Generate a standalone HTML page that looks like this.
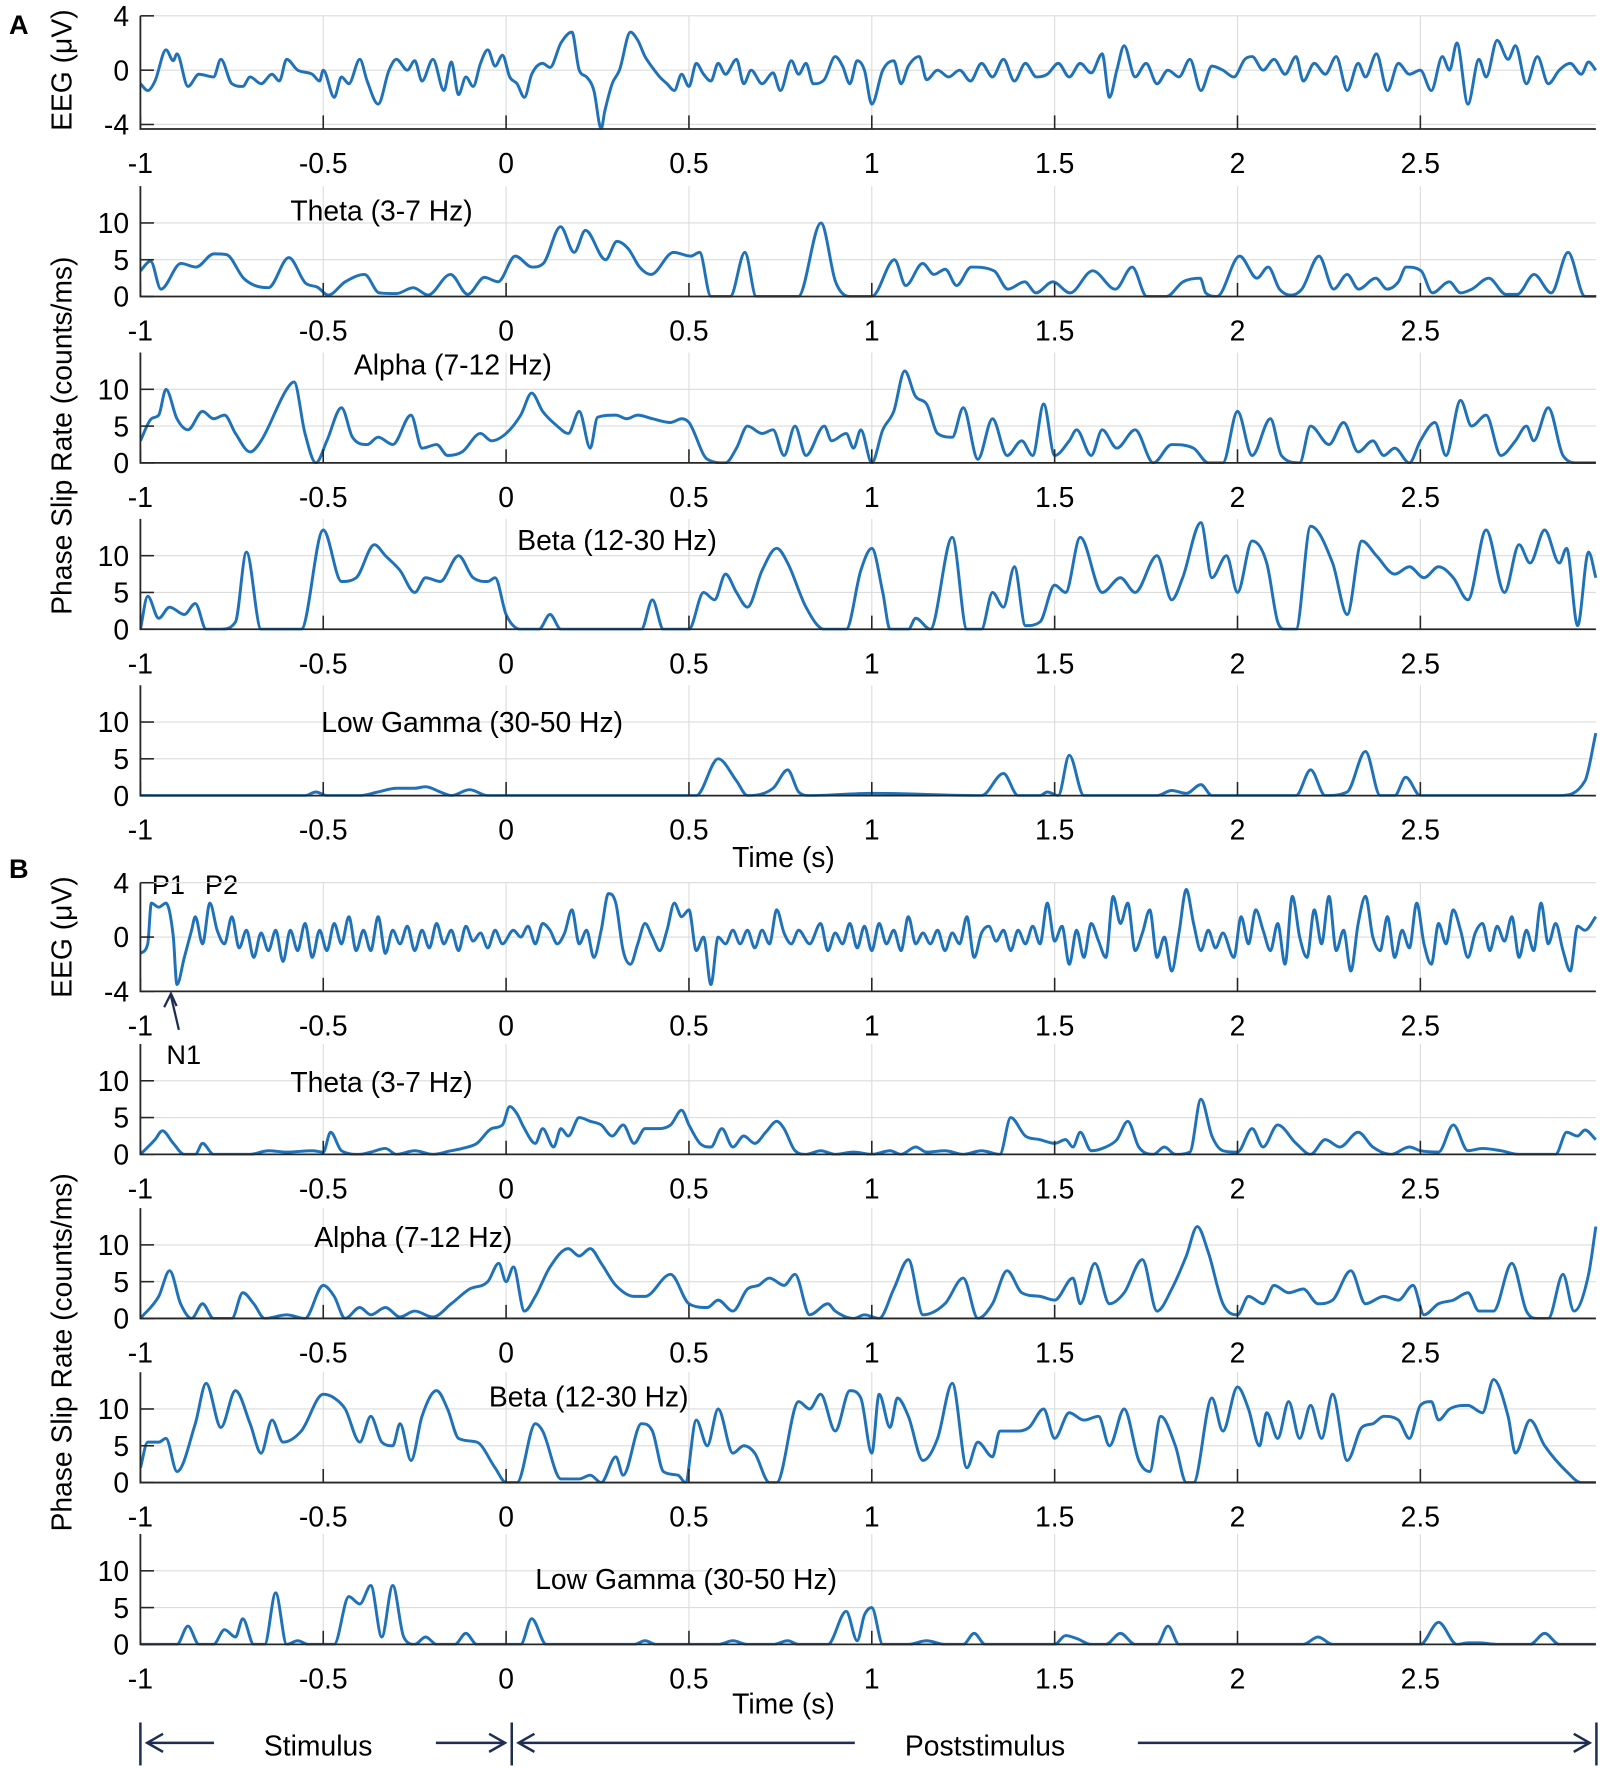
<!DOCTYPE html>
<html><head><meta charset="utf-8"><style>
html,body{margin:0;padding:0;background:#fff;}
svg{display:block;font-family:"Liberation Sans",sans-serif;}
</style></head><body>
<svg id="chart" width="1610" height="1770" viewBox="0 0 1422 1564" preserveAspectRatio="none" xmlns="http://www.w3.org/2000/svg">
<g id="static">
<text x="8" y="30" font-size="24" font-weight="bold">A</text>
<text x="8" y="776" font-size="24" font-weight="bold">B</text>
<text transform="translate(63,62) rotate(-90)" text-anchor="middle" font-size="25">EEG (μV)</text>
<text transform="translate(63,385) rotate(-90)" text-anchor="middle" font-size="25">Phase Slip Rate (counts/ms)</text>
<text transform="translate(63,828) rotate(-90)" text-anchor="middle" font-size="25">EEG (μV)</text>
<text transform="translate(63,1195) rotate(-90)" text-anchor="middle" font-size="25">Phase Slip Rate (counts/ms)</text>
<text x="692" y="766" text-anchor="middle" font-size="25">Time (s)</text>
<text x="692" y="1514" text-anchor="middle" font-size="25">Time (s)</text>
<text x="134" y="790" font-size="24">P1</text>
<text x="181" y="790" font-size="24">P2</text>
<text x="147" y="940" font-size="24">N1</text>
<g stroke="#1f2d52" stroke-width="2" fill="none">
<line x1="158" y1="910" x2="151" y2="880"/><polyline points="145,890 151,878 156,889"/></g>
<g stroke="#1f2d52" stroke-width="2.2" fill="none">
<line x1="124" y1="1522" x2="124" y2="1560"/><line x1="452" y1="1522" x2="452" y2="1560"/><line x1="1410" y1="1522" x2="1410" y2="1560"/>
<line x1="130" y1="1540" x2="189" y2="1540"/><polyline points="144,1532 130,1540 144,1548"/>
<line x1="385" y1="1540" x2="446" y2="1540"/><polyline points="432,1532 446,1540 432,1548"/>
<line x1="458" y1="1540" x2="755" y2="1540"/><polyline points="472,1532 458,1540 472,1548"/>
<line x1="1005" y1="1540" x2="1404" y2="1540"/><polyline points="1390,1532 1404,1540 1390,1548"/></g>
<text x="281" y="1551" text-anchor="middle" font-size="25">Stimulus</text>
<text x="870" y="1551" text-anchor="middle" font-size="25">Poststimulus</text>
</g>
<g id="plots"></g>
</svg>
<script>
// ---- data (times in s, values) ----
const eegA_t=[-1,-0.98,-0.96,-0.93,-0.91,-0.9,-0.87,-0.84,-0.8,-0.78,-0.75,-0.72,-0.7,-0.67,-0.64,-0.62,-0.6,-0.57,-0.53,-0.51,-0.5,-0.47,-0.45,-0.43,-0.4,-0.38,-0.35,-0.32,-0.3,-0.27,-0.25,-0.23,-0.2,-0.17,-0.15,-0.13,-0.11,-0.09,-0.07,-0.05,-0.03,-0.01,0.01,0.03,0.05,0.07,0.1,0.12,0.15,0.18,0.2,0.22,0.24,0.26,0.27,0.29,0.31,0.34,0.36,0.38,0.4,0.42,0.44,0.46,0.48,0.5,0.52,0.54,0.56,0.58,0.6,0.63,0.65,0.67,0.7,0.73,0.75,0.78,0.8,0.82,0.84,0.87,0.9,0.92,0.94,0.96,0.98,1.0,1.03,1.06,1.08,1.1,1.13,1.15,1.18,1.21,1.24,1.27,1.3,1.33,1.36,1.39,1.42,1.45,1.48,1.51,1.54,1.57,1.6,1.63,1.65,1.67,1.69,1.72,1.75,1.78,1.81,1.84,1.87,1.9,1.93,1.96,1.99,2.02,2.04,2.07,2.1,2.13,2.16,2.18,2.21,2.24,2.27,2.3,2.33,2.35,2.38,2.41,2.44,2.47,2.5,2.53,2.56,2.58,2.6,2.63,2.66,2.68,2.71,2.74,2.76,2.79,2.82,2.85,2.88,2.91,2.94,2.96,2.98];
const eegA_v=[-1,-1.5,-0.8,1.5,0.7,1.2,-1.2,-0.3,-0.5,0.8,-1,-1.2,-0.5,-1,-0.3,-0.8,0.8,0,-0.3,-0.8,0,-2,-0.5,-1,0.8,-0.8,-2.5,0,0.8,0,0.7,-0.8,0.8,-1.5,0.6,-1.8,-0.5,-1.2,0.5,1.5,0.3,1.1,-0.5,-1,-2,-0.3,0.5,0.2,2,2.8,0,-0.5,-1.5,-4.3,-3,-1,0,2.8,2.2,1,0.2,-0.5,-1,-1.5,-0.3,-1.2,0.5,-0.3,-0.8,0.5,-0.3,0.8,-1,0,-1,-0.2,-1.5,0.7,-0.3,0.5,-1,-0.7,1,0.3,-1,0.7,0,-2.5,0,0.7,-1,0.3,1,-0.7,0,-0.5,0,-0.8,0.5,-0.5,0.8,-0.8,0.5,-0.5,-0.3,0.5,-0.5,0.5,-0.2,1.2,-2,0,1.8,-0.5,0.5,-1,0,-0.5,0.8,-1.5,0.3,0,-0.5,0.8,1,0,0.8,-0.3,1,-0.8,0.5,-0.3,1,-1.5,0.5,-0.5,1.2,-1.5,0.5,-0.3,0,-1.5,1,0,2,-2.5,0.8,-0.5,2.2,0.8,1.8,-1,1,-1,0,0.5,-0.3,0.6,0];
const thetaA_t=[-1,-0.972,-0.944,-0.889,-0.848,-0.799,-0.765,-0.718,-0.687,-0.65,-0.594,-0.548,-0.517,-0.486,-0.44,-0.387,-0.347,-0.3,-0.254,-0.214,-0.152,-0.105,-0.059,-0.022,0.025,0.071,0.102,0.149,0.186,0.217,0.272,0.303,0.334,0.365,0.396,0.458,0.505,0.529,0.56,0.613,0.653,0.684,0.799,0.861,0.901,0.938,1.0,1.062,1.093,1.139,1.17,1.201,1.232,1.272,1.334,1.372,1.418,1.449,1.495,1.542,1.604,1.666,1.712,1.752,1.805,1.851,1.898,1.913,1.944,2.006,2.053,2.084,2.115,2.146,2.176,2.223,2.263,2.3,2.331,2.378,2.409,2.44,2.461,2.502,2.533,2.579,2.61,2.641,2.687,2.734,2.765,2.811,2.858,2.904,2.95,2.981];
const thetaA_v=[3.5,4.8,1,4.5,4,5.8,5.7,2.5,1.5,1.2,5.3,1.8,1.3,0.2,2,3,0.5,0.4,1.2,0.2,3,0.3,2.6,2,5.5,4,4.5,9.5,6,9,5,7.5,6.5,4,3,6,5.5,6,0,0,6,0,0,10,2,0,0,5,1.5,4.5,3,3.7,1.5,4,3.5,1,2,0.5,2,0.5,3.5,1,4,0,0,2,2.5,0.5,0,5.5,2.5,4,1,0.2,1,5.5,1,3,1,2.5,1,2,4,3.5,0.5,2,0.5,1,2.5,0.3,0.3,3,0.5,6,0,0];
const alphaA_t=[-1,-0.97,-0.95,-0.93,-0.9,-0.87,-0.83,-0.8,-0.77,-0.74,-0.7,-0.67,-0.6,-0.58,-0.55,-0.52,-0.49,-0.45,-0.42,-0.38,-0.35,-0.31,-0.26,-0.23,-0.19,-0.16,-0.12,-0.07,-0.04,0,0.04,0.07,0.1,0.14,0.17,0.2,0.23,0.25,0.3,0.33,0.36,0.4,0.45,0.48,0.5,0.55,0.6,0.63,0.66,0.7,0.73,0.76,0.79,0.82,0.87,0.89,0.93,0.95,0.97,1.0,1.03,1.06,1.09,1.12,1.15,1.18,1.22,1.25,1.29,1.33,1.37,1.41,1.44,1.47,1.5,1.54,1.56,1.6,1.63,1.67,1.72,1.77,1.82,1.88,1.92,1.96,2.0,2.04,2.09,2.12,2.17,2.2,2.25,2.29,2.33,2.37,2.4,2.43,2.47,2.5,2.54,2.57,2.61,2.64,2.68,2.72,2.76,2.79,2.81,2.85,2.89,2.93,2.98];
const alphaA_v=[3,6,6.5,10,6,4.5,7,6,6.5,4,1.5,3,10,11,4,0,3,7.5,3.5,2.5,3.5,2.5,6.5,2,2.5,1,1.5,4,3,4,6.5,9.5,7,5,4,7,2,6.2,6.5,6,6.5,6,5.5,6,5.5,0.5,0,2,5,4,4.5,1,5,1,5,3,4,2,4.5,0,4.5,7,12.5,9,8,4,3.5,7.5,0.5,6,1,3,1,8,1,3,4.5,1,4.5,2,4.5,0,2.5,2,0,0,7,1,6,1,0,5,2.5,5.5,1.5,3,1,2,0,3,5.5,1,8.5,5,6.5,1,3,5,3,7.5,1,0,0];
const betaA_t=[-1,-0.98,-0.95,-0.92,-0.88,-0.85,-0.82,-0.78,-0.74,-0.71,-0.67,-0.6,-0.56,-0.5,-0.45,-0.41,-0.36,-0.33,-0.29,-0.25,-0.22,-0.18,-0.13,-0.09,-0.05,-0.03,0,0.04,0.09,0.12,0.15,0.37,0.4,0.43,0.5,0.54,0.57,0.6,0.63,0.66,0.7,0.74,0.77,0.82,0.87,0.93,0.97,1.0,1.03,1.05,1.1,1.12,1.16,1.22,1.26,1.3,1.33,1.36,1.39,1.42,1.46,1.5,1.53,1.57,1.63,1.68,1.72,1.78,1.82,1.85,1.9,1.93,1.97,2.0,2.04,2.08,2.11,2.13,2.16,2.2,2.26,2.3,2.34,2.38,2.43,2.47,2.51,2.55,2.59,2.63,2.68,2.73,2.77,2.8,2.84,2.88,2.9,2.93,2.96,2.98];
const betaA_v=[0,4.5,1.5,3,2,3.5,0,0,1,10.5,0,0,0,13.5,6.5,7,11.5,10,8,5,7,6.5,10,7,6.5,7,2,0,0,2,0,0,4,0,0,5,4,7.5,5,3,8,11,9,3,0,0,8,11,5,0,0,1.5,0,12.5,0,0,5,3,8.5,0.5,1,6,5,12.5,5,7,5,10,4,7,14.5,7,10,5,12,9,1,0,0,14,9,2,12,10,7.5,8.5,7,8.5,7,4,13.5,5,11.5,9,13.5,9,11,0.5,10.5,7];
const gammaA_t=[-1,-0.55,-0.52,-0.49,-0.4,-0.35,-0.3,-0.25,-0.22,-0.18,-0.15,-0.1,-0.05,0.52,0.58,0.63,0.66,0.73,0.77,0.8,0.83,1.0,1.3,1.36,1.4,1.46,1.48,1.51,1.54,1.58,1.78,1.82,1.86,1.9,1.93,2.16,2.2,2.24,2.3,2.35,2.39,2.43,2.46,2.5,2.88,2.95,2.98];
const gammaA_v=[0,0,0.5,0,0,0.5,1,1,1.2,0.5,0,0.8,0,0,5,2,0,1,3.5,0.5,0,0.3,0,3,0,0,0.5,0,5.5,0,0,0.7,0.3,1.5,0,0,3.5,0,0.5,6,0,0,2.5,0,0,2,8.5];
const eegB_t=[-1,-0.98,-0.97,-0.95,-0.93,-0.91,-0.9,-0.88,-0.86,-0.85,-0.83,-0.81,-0.79,-0.77,-0.75,-0.73,-0.71,-0.69,-0.67,-0.65,-0.63,-0.61,-0.59,-0.57,-0.55,-0.53,-0.51,-0.49,-0.47,-0.45,-0.43,-0.41,-0.39,-0.37,-0.35,-0.33,-0.31,-0.29,-0.27,-0.25,-0.23,-0.21,-0.19,-0.17,-0.15,-0.13,-0.11,-0.09,-0.07,-0.05,-0.03,-0.01,0.02,0.04,0.06,0.08,0.1,0.12,0.14,0.16,0.18,0.2,0.22,0.24,0.26,0.28,0.3,0.32,0.34,0.36,0.38,0.4,0.42,0.44,0.46,0.48,0.5,0.52,0.54,0.56,0.58,0.6,0.62,0.64,0.66,0.68,0.7,0.72,0.74,0.76,0.78,0.8,0.83,0.86,0.88,0.9,0.92,0.94,0.96,0.98,1.0,1.02,1.04,1.06,1.08,1.1,1.12,1.14,1.16,1.18,1.2,1.22,1.24,1.26,1.28,1.3,1.32,1.34,1.36,1.38,1.4,1.42,1.44,1.46,1.48,1.5,1.52,1.54,1.56,1.58,1.6,1.62,1.64,1.66,1.68,1.7,1.72,1.74,1.76,1.78,1.8,1.82,1.84,1.86,1.88,1.9,1.92,1.94,1.96,1.99,2.01,2.03,2.05,2.07,2.09,2.11,2.13,2.15,2.17,2.19,2.21,2.23,2.25,2.27,2.29,2.31,2.33,2.35,2.37,2.39,2.41,2.43,2.45,2.47,2.49,2.51,2.53,2.55,2.57,2.59,2.61,2.63,2.65,2.67,2.69,2.71,2.73,2.75,2.77,2.79,2.81,2.83,2.85,2.87,2.89,2.91,2.93,2.95,2.98];
const eegB_v=[-1.2,-0.5,2.5,2.2,2.5,0,-3.5,-1.5,0.5,1.5,-0.5,2.5,0.5,-0.5,1.5,-0.8,0.5,-1.5,0.3,-1,0.5,-1.8,0.5,-1,1,-1.5,0.5,-1,1,-0.5,1.5,-1,0.5,-1,1.5,-1.2,0.5,-0.5,0.8,-1,0.5,-0.8,1,-0.5,0.5,-1,0.8,-0.3,0.3,-0.8,0.5,-0.5,0.5,0,0.8,-0.5,1,0.5,-0.5,0.3,2,-0.5,0.5,-1.5,0.5,3.2,2.5,-1,-2,-0.5,1,0,-1,0.5,2.5,1.5,2,-1,0,-3.5,0,-0.5,0.5,-0.5,0.5,-0.8,0.5,-0.5,2,0.3,-0.5,0.5,-0.5,1,-1,0.3,-0.5,1,-0.8,0.8,-1,1,-0.5,0.5,-1,1.5,-0.5,0.3,-0.5,0.5,-1,0.3,-0.5,1.5,-1.5,0.3,0.8,-0.3,0.5,-1,0.5,-0.5,0.8,-0.5,2.5,-0.3,0.8,-2,0.5,-1.5,1,-0.3,-1.5,3,1,2.5,-1,0.3,2,-1.5,0,-2.5,0.3,3.5,1,-1,0.5,-0.8,0.3,-1.5,1.5,-0.5,2,0.5,-1,1,-2,3,0,-1.5,2,-0.5,3,-1,0.5,-2.5,1,3,0,-1,1.5,-1.5,0.5,-0.8,2.5,-0.5,-2,1,-0.5,2,0.5,-1.5,0.3,1,-1,0.8,-0.3,1.5,-1.5,0.5,-1,2.5,-0.5,1,-1,-2.5,0.8,0.5,1.5];
const thetaB_t=[-1,-0.96,-0.94,-0.91,-0.88,-0.85,-0.83,-0.8,-0.7,-0.65,-0.6,-0.53,-0.5,-0.48,-0.45,-0.4,-0.37,-0.33,-0.3,-0.25,-0.2,-0.15,-0.12,-0.08,-0.04,-0.01,0.01,0.03,0.05,0.08,0.1,0.13,0.15,0.17,0.2,0.23,0.26,0.29,0.32,0.35,0.38,0.41,0.45,0.48,0.5,0.53,0.56,0.59,0.62,0.65,0.68,0.71,0.74,0.76,0.79,0.82,0.86,0.9,0.95,1.0,1.05,1.08,1.12,1.15,1.2,1.25,1.3,1.35,1.38,1.42,1.46,1.5,1.53,1.55,1.57,1.6,1.64,1.67,1.7,1.73,1.77,1.8,1.83,1.87,1.9,1.93,1.96,2.0,2.04,2.07,2.11,2.16,2.2,2.24,2.28,2.33,2.37,2.42,2.47,2.5,2.55,2.59,2.63,2.67,2.72,2.77,2.87,2.9,2.93,2.95,2.98];
const thetaB_v=[0,2,3.2,1.5,0,0,1.5,0,0,0.5,0.3,0.5,0.3,3,0.5,0,0.3,0.8,0,0.5,0,0.5,0.8,1.5,3.5,4,6.5,5.5,3.5,1.5,3.5,1,3.5,2.5,5,4.5,4,2.5,4,1.5,3.5,3.5,4,6,4,1.5,1,3.5,1,2.5,1.5,3,4.5,3.5,0.5,0,0.5,0,0.3,0,0.5,0,1,0.3,0.5,0,0.5,0,5,2.5,2,1.5,2,1,3,0.5,1,2,4.5,1,0,1,0,0.3,7.5,2.5,0.5,0.3,3.5,1,4,1.5,0,2,1,3,1,0,1,0.5,0.3,4,0.5,0.8,0.5,0,0,3,2.5,3.3,2];
const alphaB_t=[-1,-0.95,-0.92,-0.89,-0.86,-0.83,-0.8,-0.75,-0.72,-0.69,-0.66,-0.6,-0.55,-0.5,-0.47,-0.44,-0.4,-0.37,-0.33,-0.29,-0.25,-0.2,-0.15,-0.1,-0.05,-0.02,0,0.02,0.05,0.08,0.12,0.17,0.2,0.23,0.26,0.3,0.35,0.38,0.45,0.5,0.55,0.58,0.62,0.66,0.69,0.72,0.76,0.79,0.83,0.88,0.9,0.95,0.98,1.02,1.06,1.1,1.14,1.2,1.25,1.29,1.33,1.37,1.41,1.46,1.5,1.55,1.57,1.61,1.65,1.69,1.74,1.78,1.82,1.86,1.89,1.92,1.96,2.0,2.03,2.07,2.1,2.14,2.18,2.22,2.26,2.31,2.35,2.4,2.44,2.48,2.51,2.55,2.59,2.63,2.66,2.7,2.75,2.79,2.82,2.85,2.89,2.92,2.96,2.98];
const alphaB_v=[0,3,6.5,2,0,2,0,0,3.5,2,0,0.5,0,4.5,3,0,1.5,0.5,1.5,0.2,1,0.2,2,4,5,7.5,5,7,1,3,7,9.5,8.5,9.5,7.5,4.5,3,3,6,2,1.5,2.5,1,4,4.5,5.5,4.5,6,0.5,2,1,0,0.5,0,4,8,0.5,2,5.5,0,2,6.5,3.5,3,2.5,5.5,2,7.5,2,3.5,8,1,4,8.5,12.5,9,2,0.5,3,2,4.5,3.5,4,2,2.5,6.5,2,3,2.5,4.5,0.5,2,2.5,3.5,1,1,7.5,1,0,0,6,1,6,12.5];
const betaB_t=[-1,-0.98,-0.95,-0.93,-0.9,-0.85,-0.82,-0.78,-0.74,-0.7,-0.67,-0.64,-0.61,-0.56,-0.5,-0.47,-0.44,-0.4,-0.37,-0.34,-0.31,-0.29,-0.26,-0.23,-0.19,-0.16,-0.13,-0.08,-0.03,0,0.03,0.08,0.1,0.15,0.2,0.23,0.26,0.3,0.32,0.37,0.4,0.43,0.47,0.49,0.52,0.55,0.58,0.62,0.65,0.68,0.72,0.74,0.8,0.83,0.86,0.9,0.94,0.97,1.0,1.02,1.05,1.07,1.1,1.14,1.18,1.22,1.26,1.29,1.33,1.35,1.4,1.43,1.47,1.5,1.54,1.58,1.62,1.65,1.69,1.73,1.76,1.79,1.83,1.86,1.88,1.93,1.96,2.0,2.03,2.06,2.08,2.11,2.14,2.17,2.2,2.23,2.26,2.3,2.34,2.37,2.4,2.44,2.47,2.5,2.53,2.55,2.58,2.63,2.67,2.7,2.74,2.76,2.8,2.84,2.9,2.94,2.98];
const betaB_v=[2,5.5,5.5,6,1.5,8,13.5,7.5,12.5,8,4,8.5,5.5,7,12,11.5,10,5.5,9,5.5,5,8,3,9,12.5,10,6,5.5,2,0,0,8,7,0.5,0.5,1,0,3.5,1,8,7,1.5,1,0,8.5,5,10,4,5,4,0,0,11,10,12,7,12.5,11.5,4,12,7.5,11.5,9,3,6,13.5,2,5.5,3.5,7,7,7.5,10,6,9.5,8.5,9,5,10,3,1.5,9,5,0,0,11.5,7,13,10,5,9.5,6,11,6,10.5,6,12,3,7.5,8,9,8.5,6,10.5,11,8.5,10,10.5,9.5,14,9,4,8.5,5,1.5,0,0];
const gammaB_t=[-1,-0.9,-0.87,-0.84,-0.8,-0.77,-0.74,-0.72,-0.69,-0.66,-0.63,-0.6,-0.57,-0.54,-0.47,-0.43,-0.4,-0.37,-0.34,-0.31,-0.28,-0.25,-0.22,-0.19,-0.14,-0.11,-0.08,0.04,0.07,0.11,0.35,0.38,0.41,0.58,0.62,0.66,0.73,0.77,0.8,0.88,0.93,0.96,0.98,1.0,1.03,1.1,1.15,1.2,1.25,1.28,1.31,1.5,1.53,1.56,1.6,1.64,1.68,1.72,1.78,1.81,1.84,2.18,2.22,2.26,2.5,2.55,2.6,2.63,2.66,2.71,2.8,2.84,2.88,2.98];
const gammaB_v=[0,0,2.5,0,0,2,1,3.5,0,0,7,0,0.5,0,0,6.5,5.5,8,1,8,1,0,1,0,0,1.5,0,0,3.5,0,0,0.5,0,0,0.5,0,0,0.5,0,0,4.5,0.5,4,5,0,0,0.5,0,0,1.5,0,0,1.2,0.8,0,0,1.5,0,0,2.5,0,0,1,0,0,3,0,0.2,0.2,0,0,1.5,0,0];
const xTicks=[-1,-0.5,0,0.5,1,1.5,2,2.5];
const xTickLabels=["-1","-0.5","0","0.5","1","1.5","2","2.5"];
const eegTicks=[-4,0,4];
const rateTicks=[0,5,10];

// ---- layout ----
const X0=124, PX_PER_S=323, XMAX=2.98;
const xs=t=>X0+(t+1)*PX_PER_S;
const panels=[
 {name:"eeg-a",zero:62,scale:12,min:-4.33,max:4,ticks:eegTicks,t:eegA_t,v:eegA_v},
 {name:"theta-a",zero:262,scale:6.5,min:0,max:15,ticks:rateTicks,t:thetaA_t,v:thetaA_v,title:"Theta (3-7 Hz)",tx:337,ty:195},
 {name:"alpha-a",zero:409,scale:6.5,min:0,max:15,ticks:rateTicks,t:alphaA_t,v:alphaA_v,title:"Alpha (7-12 Hz)",tx:400,ty:331},
 {name:"beta-a",zero:556,scale:6.5,min:0,max:15,ticks:rateTicks,t:betaA_t,v:betaA_v,title:"Beta (12-30 Hz)",tx:545,ty:486},
 {name:"low-gamma-a",zero:703,scale:6.5,min:0,max:15,ticks:rateTicks,t:gammaA_t,v:gammaA_v,title:"Low Gamma (30-50 Hz)",tx:417,ty:647},
 {name:"eeg-b",zero:828,scale:12,min:-4,max:4,ticks:eegTicks,t:eegB_t,v:eegB_v},
 {name:"theta-b",zero:1020,scale:6.5,min:0,max:15,ticks:rateTicks,t:thetaB_t,v:thetaB_v,title:"Theta (3-7 Hz)",tx:337,ty:965},
 {name:"alpha-b",zero:1165,scale:6.5,min:0,max:15,ticks:rateTicks,t:alphaB_t,v:alphaB_v,title:"Alpha (7-12 Hz)",tx:365,ty:1102},
 {name:"beta-b",zero:1310,scale:6.5,min:0,max:15,ticks:rateTicks,t:betaB_t,v:betaB_v,title:"Beta (12-30 Hz)",tx:520,ty:1243},
 {name:"low-gamma-b",zero:1453,scale:6.5,min:0,max:15,ticks:rateTicks,t:gammaB_t,v:gammaB_v,title:"Low Gamma (30-50 Hz)",tx:606,ty:1404}
];
const NS="http://www.w3.org/2000/svg";
const root=document.getElementById('plots');
function mk(tag,attrs,parent){const e=document.createElementNS(NS,tag);for(const k in attrs)e.setAttribute(k,attrs[k]);parent.appendChild(e);return e;}

function monotonePath(px,py){
 const n=px.length;if(n<2)return "";
 const d=[],m=new Array(n);
 for(let i=0;i<n-1;i++)d.push((py[i+1]-py[i])/((px[i+1]-px[i])||1e-6));
 m[0]=d[0];m[n-1]=d[n-2];
 for(let i=1;i<n-1;i++){ if(d[i-1]*d[i]<=0)m[i]=0; else m[i]=(d[i-1]+d[i])/2; }
 for(let i=0;i<n-1;i++){ if(d[i]===0){m[i]=0;m[i+1]=0;continue;}
  const a=m[i]/d[i],b=m[i+1]/d[i],s=a*a+b*b; if(s>9){const tt=3/Math.sqrt(s);m[i]=tt*a*d[i];m[i+1]=tt*b*d[i];}}
 let p="M"+px[0].toFixed(1)+","+py[0].toFixed(1);
 for(let i=0;i<n-1;i++){const h=(px[i+1]-px[i])/3;
  p+="C"+(px[i]+h).toFixed(1)+","+(py[i]+m[i]*h).toFixed(1)+" "+(px[i+1]-h).toFixed(1)+","+(py[i+1]-m[i+1]*h).toFixed(1)+" "+px[i+1].toFixed(1)+","+py[i+1].toFixed(1);}
 return p;
}

panels.forEach((P,idx)=>{
 const ys=v=>P.zero-v*P.scale;
 const top=ys(P.max), bot=ys(P.min), right=xs(XMAX);
 const g=mk('g',{},root);
 
 
 xTicks.forEach(t=>{const l=mk('line',{x1:xs(t),x2:xs(t),y1:top,y2:bot,stroke:'#dcdcdc','stroke-width':1},g);
  });
 P.ticks.forEach(v=>{const l=mk('line',{x1:X0,x2:right,y1:ys(v),y2:ys(v),stroke:'#dcdcdc','stroke-width':1},g);
  });
 const clipId='clip'+idx;
 const cp=mk('clipPath',{id:clipId},g);mk('rect',{x:X0,y:top-3,width:right-X0+2,height:bot-top+4},cp);
 const path=mk('path',{d:monotonePath(P.t.map(xs),P.v.map(ys)),fill:'none',stroke:'#1f72b8','stroke-width':2.6,'stroke-linejoin':'round','clip-path':'url(#'+clipId+')'},g);
 
 
 const ax=mk('path',{d:`M${X0},${top}V${bot}H${right}`,fill:'none',stroke:'#262626','stroke-width':1.6},g);
 
 xTicks.forEach((t,i)=>{
  mk('line',{x1:xs(t),x2:xs(t),y1:bot,y2:bot-12,stroke:'#262626','stroke-width':1.4},g);
  const tx=mk('text',{x:xs(t),y:bot+39,'text-anchor':'middle','font-size':25,fill:'#000'},g);
  tx.textContent=xTickLabels[i];
  
 });
 P.ticks.forEach(v=>{
  mk('line',{x1:X0,x2:X0+12,y1:ys(v),y2:ys(v),stroke:'#262626','stroke-width':1.4},g);
  const tx=mk('text',{x:X0-10,y:ys(v)+9,'text-anchor':'end','font-size':25,fill:'#000'},g);
  tx.textContent=String(v);
  
 });
 if(P.title){const tt=mk('text',{x:P.tx,y:P.ty,'text-anchor':'middle','font-size':25,fill:'#000'},g);
  tt.textContent=P.title;
  }
});
</script>
</body></html>
